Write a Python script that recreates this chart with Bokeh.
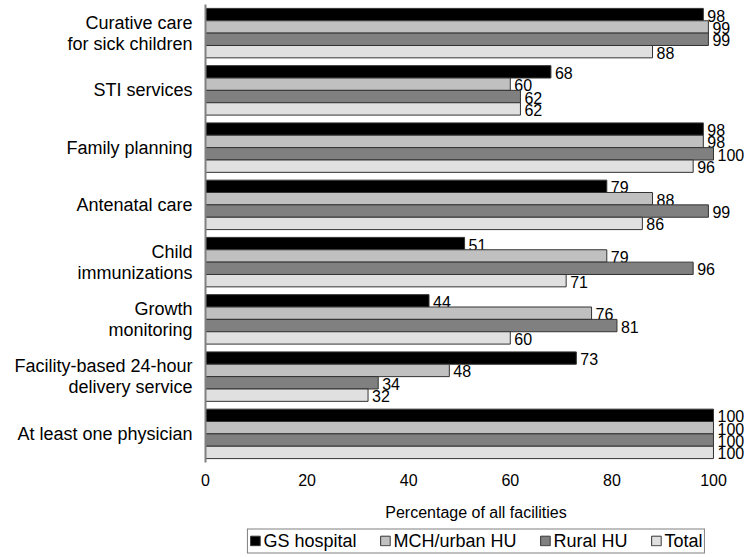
from bokeh.plotting import figure
from bokeh.layouts import column
from bokeh.models import ColumnDataSource, FactorRange, Range1d, FixedTicker, Legend, LegendItem
from bokeh.transform import dodge
from bokeh.core.properties import value
from bokeh.embed import file_html
from bokeh.resources import INLINE

categories = [
    "Curative care\nfor sick children",
    "STI services",
    "Family planning",
    "Antenatal care",
    "Child\nimmunizations",
    "Growth\nmonitoring",
    "Facility-based 24-hour\ndelivery service",
    "At least one physician",
]
series_names = ["GS hospital", "MCH/urban HU", "Rural HU", "Total"]
gs_hospital = [98, 68, 98, 79, 51, 44, 73, 100]
mch_urban_hu = [99, 60, 98, 88, 79, 76, 48, 100]
rural_hu = [99, 62, 100, 99, 96, 81, 34, 100]
total = [88, 62, 96, 86, 71, 60, 32, 100]
x_ticks = [0, 20, 40, 60, 80, 100]

series_values = [gs_hospital, mch_urban_hu, rural_hu, total]
colors = ["#000000", "#c0c0c0", "#808080", "#e0e0e0"]
offsets = [0.324, 0.108, -0.108, -0.324]
bar_h = 0.216
FONT = "Liberation Sans"
OUTLINE = "#333333"

p = figure(
    width=746, height=523,
    y_range=FactorRange(factors=list(reversed(categories)), range_padding=0),
    x_range=Range1d(0, 106.5),
    output_backend="svg", toolbar_location=None,
    min_border_left=205, min_border_right=0, min_border_top=4, min_border_bottom=0,
)
p.outline_line_color = None
p.xgrid.visible = False
p.ygrid.visible = False

for name, vals, col, off in zip(series_names, series_values, colors, offsets):
    src = ColumnDataSource(dict(cat=categories, v=vals, lab=[str(v) for v in vals]))
    p.hbar(y=dodge("cat", off, range=p.y_range), right="v", left=0, height=bar_h,
           source=src, fill_color=col, line_color=OUTLINE, line_width=1)
    p.text(x="v", y=dodge("cat", off, range=p.y_range), text="lab", source=src,
           x_offset=4, y_offset=1, text_baseline="middle", text_align="left",
           text_font=value(FONT), text_font_size="16px", text_color="#000000")

# x axis
p.xaxis.ticker = FixedTicker(ticks=x_ticks)
p.xaxis.axis_line_color = None
p.xaxis.major_tick_line_color = None
p.xaxis.minor_tick_line_color = None
p.xaxis.major_tick_out = 0
p.xaxis.major_tick_in = 0
p.xaxis.major_label_standoff = 11
p.xaxis.major_label_text_font = FONT
p.xaxis.major_label_text_font_size = "16px"
p.xaxis.major_label_text_color = "#000000"
p.xaxis.axis_label = "Percentage of all facilities"
p.xaxis.axis_label_text_font = FONT
p.xaxis.axis_label_text_font_size = "16px"
p.xaxis.axis_label_text_font_style = "normal"
p.xaxis.axis_label_text_color = "#000000"
p.xaxis.axis_label_standoff = 15

# y axis
p.yaxis.axis_line_color = "#808080"
p.yaxis.axis_line_width = 2
p.yaxis.major_tick_line_color = None
p.yaxis.minor_tick_line_color = None
p.yaxis.major_tick_out = 0
p.yaxis.major_tick_in = 0
p.yaxis.major_label_standoff = 13
p.yaxis.major_label_text_font = FONT
p.yaxis.major_label_text_font_size = "18px"
p.yaxis.major_label_text_line_height = 1.05
p.yaxis.major_label_text_color = "#000000"

# legend strip below the chart
lg = figure(
    width=746, height=34,
    x_range=Range1d(0, 1), y_range=Range1d(0, 1),
    x_axis_location=None, y_axis_location=None,
    output_backend="svg", toolbar_location=None,
    min_border_left=205, min_border_right=0, min_border_top=1, min_border_bottom=0,
)
lg.outline_line_color = None
lg.xgrid.visible = False
lg.ygrid.visible = False
items = []
for name, col in zip(series_names, colors):
    # swatch renderer placed outside the visible range; only its legend swatch shows
    r = lg.hbar(y=[-10], right=[0.5], left=0, height=0.5, fill_color=col,
                line_color=OUTLINE, line_width=1)
    items.append(LegendItem(label=name, renderers=[r]))

legend = Legend(items=items, orientation="horizontal", location="center")
legend.label_text_font = FONT
legend.label_text_font_size = "18px"
legend.label_text_color = "#000000"
legend.glyph_width = 12
legend.glyph_height = 12
legend.label_standoff = 3
legend.spacing = 22
legend.padding = 1
legend.margin = 0
legend.border_line_color = "#000000"
legend.border_line_width = 1
legend.label_height = 18
lg.add_layout(legend, "center")

layout = column(p, lg, spacing=0)
open("out.html", "w").write(file_html(layout, INLINE))
